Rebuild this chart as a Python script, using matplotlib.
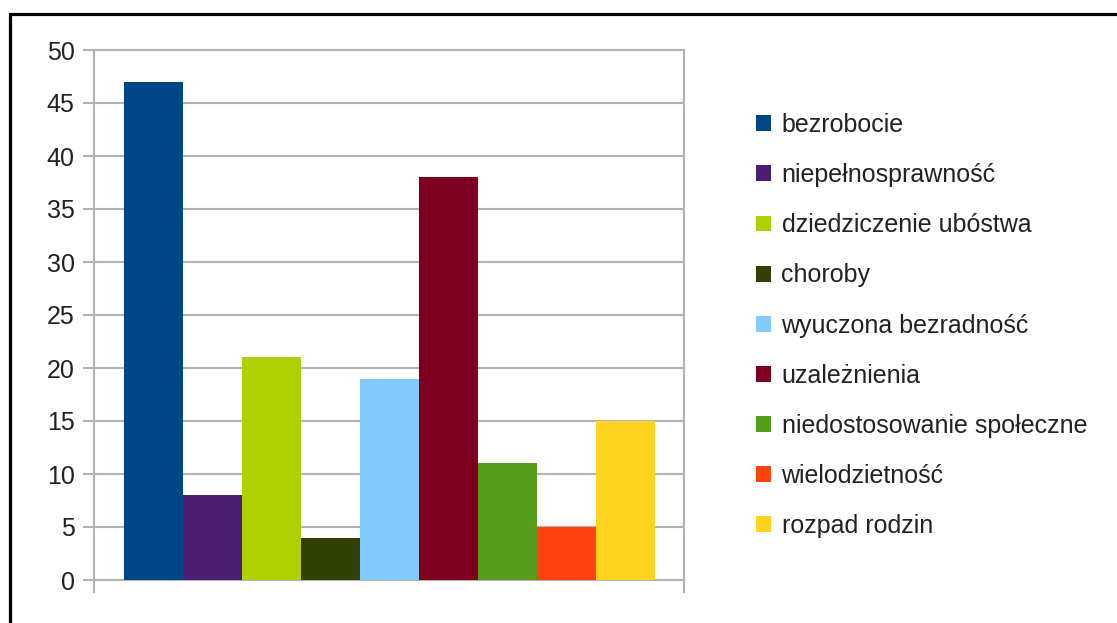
import matplotlib
matplotlib.use("Agg")
import matplotlib.pyplot as plt
from matplotlib.patches import Rectangle

labels = ["bezrobocie", "niepełnosprawność", "dziedziczenie ubóstwa", "choroby",
          "wyuczona bezradność", "uzależnienia", "niedostosowanie społeczne",
          "wielodzietność", "rozpad rodzin"]
values = [47, 8, 21, 4, 19, 38, 11, 5, 15]
colors = ["#004586", "#4b1f6f", "#aecf00", "#314004", "#83caff",
          "#7e0021", "#579d1c", "#ff420e", "#ffd320"]
yticks = list(range(0, 51, 5))

plt.rcParams['font.family'] = ['Liberation Sans', 'DejaVu Sans']

W, H = 1117, 623
fig = plt.figure(figsize=(W / 100, H / 100), dpi=100)
ax = fig.add_axes([94 / W, (H - 580) / H, 590 / W, 530 / H])

bw = 0.9 / len(values)
for i, (lab, v, c) in enumerate(zip(labels, values, colors)):
    x = -0.45 + bw * (i + 0.5)
    ax.bar(x, v, width=bw, color=c, label=lab, zorder=3)

ax.set_xlim(-0.5, 0.5)
ax.set_ylim(0, 50)
ax.set_yticks(yticks)
ax.set_xticks([-0.5, 0.5])
ax.set_xticklabels([])
ax.yaxis.grid(True, color="#b3b3b3", linewidth=1.5, zorder=0)
for s in ax.spines.values():
    s.set_color("#b3b3b3")
    s.set_linewidth(1.5)
ax.tick_params(axis="y", direction="out", length=8, width=1.5, color="#b3b3b3",
               labelsize=18, labelcolor="#222222", pad=6)
ax.tick_params(axis="x", direction="out", length=9, width=1.5, color="#b3b3b3")

leg = ax.legend(loc="upper left", bbox_to_anchor=(746 / W, (H - 103) / H),
                bbox_transform=fig.transFigure, frameon=False, fontsize=18,
                handlelength=0.6, handleheight=0.6, handletextpad=0.42,
                labelspacing=1.045, borderaxespad=0)
for t in leg.get_texts():
    t.set_color("#222222")

fig.add_artist(Rectangle((10 / W, -0.1), 1.2, (H - 14) / H + 0.1,
                         transform=fig.transFigure, fill=False,
                         edgecolor="black", linewidth=2.3))

fig.savefig("out.png", dpi=100)
